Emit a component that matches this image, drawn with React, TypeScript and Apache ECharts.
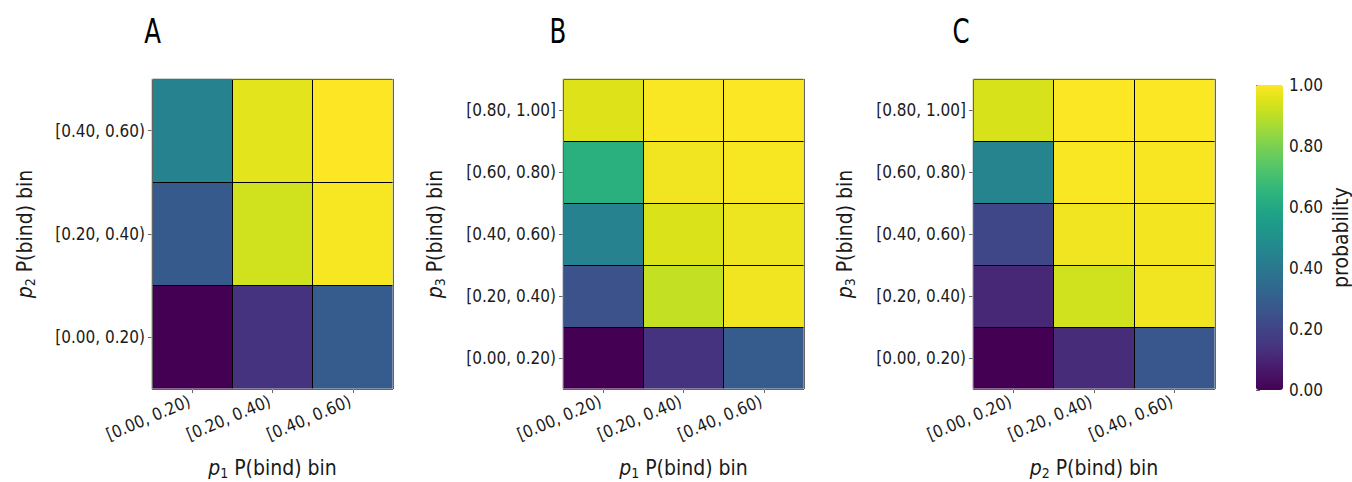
import React, { useEffect, useRef } from 'react';
import * as echarts from 'echarts';

// ---------------- data ----------------
const binsP1 = ['[0.00, 0.20)', '[0.20, 0.40)', '[0.40, 0.60)'];
const binsP2 = ['[0.00, 0.20)', '[0.20, 0.40)', '[0.40, 0.60)'];
const binsP3 = ['[0.00, 0.20)', '[0.20, 0.40)', '[0.40, 0.60)', '[0.60, 0.80)', '[0.80, 1.00]'];

// rows: y bins (bottom -> top), columns: x bins (left -> right)
const probA = [
  [0.0, 0.14, 0.29],
  [0.28, 0.93, 0.99],
  [0.44, 0.96, 1.0],
];
const probB = [
  [0.0, 0.14, 0.29],
  [0.25, 0.91, 0.98],
  [0.44, 0.945, 0.975],
  [0.63, 0.98, 0.99],
  [0.95, 0.995, 0.997],
];
const probC = [
  [0.0, 0.12, 0.27],
  [0.11, 0.93, 0.98],
  [0.21, 0.98, 0.985],
  [0.45, 0.995, 0.993],
  [0.94, 0.997, 0.999],
];
const colorbarTicks = [0, 0.2, 0.4, 0.6, 0.8, 1.0];
const panelLetters = ['A', 'B', 'C'];

const viridis = [
  '#440154', '#471365', '#482475', '#453781', '#414487', '#3b528b', '#355f8d',
  '#2f6c8e', '#2a788e', '#25848e', '#21918c', '#1e9c89', '#22a884', '#2fb47c',
  '#44bf70', '#5ec962', '#7ad151', '#9bd93c', '#bddf26', '#dde318', '#fde725',
];

const FONT = '"DejaVu Sans Condensed", "DejaVu Sans", sans-serif';
const TXT = '#1a1a1a';
const TICK_FS = 17;
const NAME_FS = 21;

function toCells(m: number[][]) {
  const out: number[][] = [];
  m.forEach((row, yi) => row.forEach((v, xi) => out.push([xi, yi, v])));
  return out;
}

function axisName(sym: string, sub: string) {
  return `{i|${sym}}{s|${sub}}{t| P(bind) bin}`;
}

const nameStyle = {
  fontFamily: FONT,
  fontSize: NAME_FS,
  color: TXT,
  rich: {
    i: { fontStyle: 'italic', fontSize: NAME_FS, lineHeight: 24, fontFamily: FONT, color: TXT },
    s: { fontSize: 14, lineHeight: 10, verticalAlign: 'bottom', fontFamily: FONT, color: TXT },
    t: { fontSize: NAME_FS, lineHeight: 24, fontFamily: FONT, color: TXT },
  },
};

export default function App() {
  const ref = useRef<HTMLDivElement>(null);
  useEffect(() => {
    if (!ref.current) return;
    const chart = echarts.init(ref.current, undefined, { renderer: 'svg' });

    const gridBox = [
      { left: 152, top: 79, width: 241, height: 310 },
      { left: 563, top: 79, width: 241, height: 310 },
      { left: 973, top: 79, width: 242, height: 310 },
    ];
    const xCats = [binsP1, binsP1, binsP2];
    const yCats = [binsP2, binsP3, binsP3];
    const xNames = [axisName('p', '1'), axisName('p', '1'), axisName('p', '2')];
    const yNames = [axisName('p', '2'), axisName('p', '3'), axisName('p', '3')];
    const mats = [probA, probB, probC];
    const letterX = [152.5, 558, 961];

    const grids: any[] = gridBox.map((g) => ({
      ...g,
      show: true,
      z: 5,
      containLabel: false,
      outerBoundsMode: 'none',
      backgroundColor: 'transparent',
      borderColor: '#c8c8c8',
      borderWidth: 1,
    }));
    grids.push({
      left: 1256,
      top: 85,
      width: 27,
      height: 305,
      show: false,
      containLabel: false,
      outerBoundsMode: 'none',
    });

    const cellLines = { show: true, lineStyle: { color: '#000', width: 1 } };

    const xAxes: any[] = xCats.map((cats, i) => ({
      type: 'category',
      gridIndex: i,
      data: cats,
      z: 4,
      axisLine: { show: false },
      axisTick: { show: true, alignWithLabel: true, length: 4, lineStyle: { color: '#666' } },
      axisLabel: {
        rotate: 23,
        fontFamily: FONT,
        fontSize: TICK_FS,
        color: TXT,
        margin: 10,
        padding: [0, 3, 0, 0],
      },
      splitLine: cellLines,
      name: xNames[i],
      nameLocation: 'middle',
      nameGap: 67,
      nameTextStyle: nameStyle,
    }));
    xAxes.push({ type: 'value', gridIndex: 3, show: false, min: 0, max: 1 });

    const yAxes: any[] = yCats.map((cats, i) => ({
      type: 'category',
      gridIndex: i,
      data: cats,
      z: 4,
      axisLine: { show: false },
      axisTick: { show: true, alignWithLabel: true, length: 4, lineStyle: { color: '#666' } },
      axisLabel: { fontFamily: FONT, fontSize: TICK_FS, color: TXT, margin: 7 },
      splitLine: cellLines,
      name: yNames[i],
      nameLocation: 'middle',
      nameGap: i === 0 ? 115 : 116,
      nameTextStyle: nameStyle,
    }));
    yAxes.push({
      type: 'value',
      gridIndex: 3,
      position: 'right',
      min: 0,
      max: 1,
      interval: 0.2,
      axisLine: { show: false },
      axisTick: { show: true, length: 4, lineStyle: { color: '#666' } },
      axisLabel: {
        fontFamily: FONT,
        fontSize: TICK_FS,
        color: TXT,
        margin: 6,
        formatter: (v: number) => (colorbarTicks.includes(Math.round(v * 10) / 10) ? v.toFixed(2) : ''),
      },
      splitLine: { show: false },
      name: 'probability',
      nameLocation: 'middle',
      nameGap: 47,
      nameTextStyle: { fontFamily: FONT, fontSize: NAME_FS, color: TXT },
    });

    const series = mats.map((m, i) => ({
      type: 'heatmap',
      xAxisIndex: i,
      yAxisIndex: i,
      data: toCells(m),
      itemStyle: { borderWidth: 0 },
      emphasis: { disabled: true },
    }));

    chart.setOption({
      animation: false,
      backgroundColor: '#fff',
      grid: grids,
      xAxis: xAxes,
      yAxis: yAxes,
      visualMap: {
        type: 'continuous',
        min: 0,
        max: 1,
        seriesIndex: [0, 1, 2],
        inRange: { color: viridis },
        orient: 'vertical',
        left: 1256,
        top: 85,
        itemWidth: 27,
        itemHeight: 305,
        padding: 0,
        calculable: false,
        hoverLink: false,
        text: ['', ''],
        showLabel: false,
      },
      graphic: panelLetters.map((L, i) => ({
        type: 'text',
        x: letterX[i],
        y: 31,
        scaleX: 0.8,
        style: {
          text: L,
          fontSize: 34,
          fontFamily: '"Liberation Sans Narrow", "DejaVu Sans Condensed", sans-serif',
          fill: '#000',
          align: 'center',
          verticalAlign: 'middle',
        },
      })),
      series,
    });
    return () => chart.dispose();
  }, []);
  return (
    <div
      ref={ref}
      style={{ position: 'absolute', left: 0, top: 0, width: 1352, height: 482 }}
    />
  );
}
